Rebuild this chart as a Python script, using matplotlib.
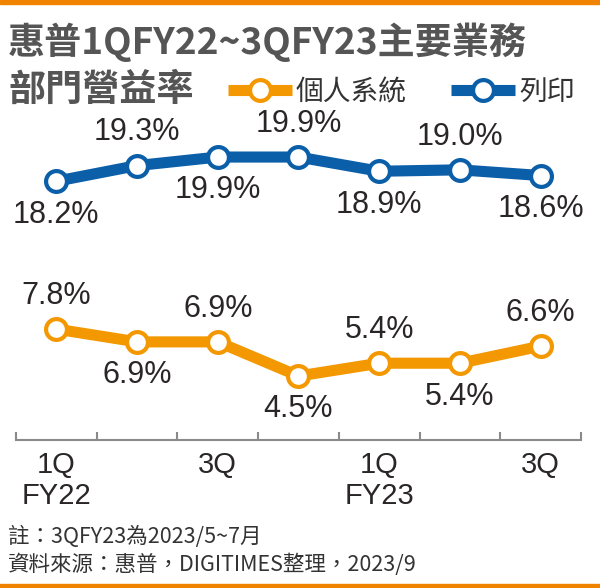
import matplotlib
matplotlib.use("Agg")
import matplotlib.pyplot as plt
from matplotlib.patches import Rectangle

# 資料
quarters = ["1QFY22", "2QFY22", "3QFY22", "4QFY22", "1QFY23", "2QFY23", "3QFY23"]
pc = [7.8, 6.9, 6.9, 4.5, 5.4, 5.4, 6.6]          # 個人系統
printing = [18.2, 19.3, 19.9, 19.9, 18.9, 19.0, 18.6]  # 列印
pc_pos = ["up", "down", "up", "down", "up", "down", "up"]
pr_pos = ["down", "up", "down", "up", "down", "up", "down"]
tick_idx = [0, 2, 4, 6]
tick_text = ["1Q\nFY22", "3Q", "1Q\nFY23", "3Q"]

ORANGE = "#f39800"
BLUE = "#0b5ea8"
NUM_FONT = ["Liberation Sans Narrow", "Liberation Sans"]
CJK = ["Noto Sans CJK TC", "DejaVu Sans"]

fig = plt.figure(figsize=(6.0, 5.88), dpi=100)
fig.patch.set_facecolor("white")

# 上下的橘色細條
fig.patches.append(Rectangle((0, 1 - 4 / 588), 1, 4 / 588, transform=fig.transFigure,
                             color="#f08300", zorder=0))
fig.patches.append(Rectangle((0, 0), 1, 4 / 588, transform=fig.transFigure,
                             color="#f08300", zorder=0))

ax = fig.add_axes([16 / 600, 1 - 440 / 588, 565 / 600, (440 - 141.4) / 588])
ax.set_facecolor("none")
x = list(range(len(quarters)))

l1, = ax.plot(x, pc, color=ORANGE, lw=8, marker="o", ms=15, mfc="white",
              mec=ORANGE, mew=3, solid_capstyle="butt", label="個人系統", zorder=3)
l2, = ax.plot(x, printing, color=BLUE, lw=8, marker="o", ms=15, mfc="white",
              mec=BLUE, mew=3, solid_capstyle="butt", label="列印", zorder=3)

for xs, vals, pos in [(x, pc, pc_pos), (x, printing, pr_pos)]:
    for xi, v, p in zip(xs, vals, pos):
        off = 24 if p == "up" else -24
        ax.annotate(f"{v:.1f}%", (xi, v), xytext=(0, off), textcoords="offset points",
                    ha="center", va="center", fontsize=22, family=NUM_FONT,
                    color="#2a2627")

ax.set_xlim(-0.5, 6.5)
ax.set_ylim(0, 21)
ax.set_yticks([])
for s in ["top", "right", "left"]:
    ax.spines[s].set_visible(False)
ax.spines["bottom"].set_color("#8a8a8a")
ax.spines["bottom"].set_linewidth(1.5)

ax.set_xticks(tick_idx)
ax.set_xticklabels(tick_text, fontsize=21, family=NUM_FONT, color="#2a2627",
                   linespacing=1.15)
ax.tick_params(axis="x", which="major", length=0, pad=8)
ax.set_xticks([i - 0.5 for i in range(len(quarters) + 1)], minor=True)
ax.tick_params(axis="x", which="minor", direction="in", length=6, width=1.5,
               color="#8a8a8a")

# 標題
fig.text(8 / 600, 1 - 42 / 588, "惠普1QFY22~3QFY23主要業務", fontsize=26.7,
         fontweight="bold", family=CJK, color="#555555", va="center", ha="left")
fig.text(8 / 600, 1 - 90 / 588, "部門營益率", fontsize=26.7,
         fontweight="bold", family=CJK, color="#555555", va="center", ha="left")

fig.legend(handles=[l1, l2], loc="center right", bbox_to_anchor=(1.0, 1 - 92 / 588),
           ncol=2, frameon=False, handlelength=2.3, handletextpad=0.15,
           columnspacing=1.6, prop={"family": CJK, "size": 20},
           labelcolor="#333333")

# 註解
fig.text(8 / 600, 1 - 537 / 588, "註：3QFY23為2023/5~7月", fontsize=15.5,
         family=CJK, color="#333333", va="center", ha="left")
fig.text(8 / 600, 1 - 565 / 588, "資料來源：惠普，DIGITIMES整理，2023/9", fontsize=15.5,
         family=CJK, color="#333333", va="center", ha="left")

fig.savefig("out.png", dpi=100)
